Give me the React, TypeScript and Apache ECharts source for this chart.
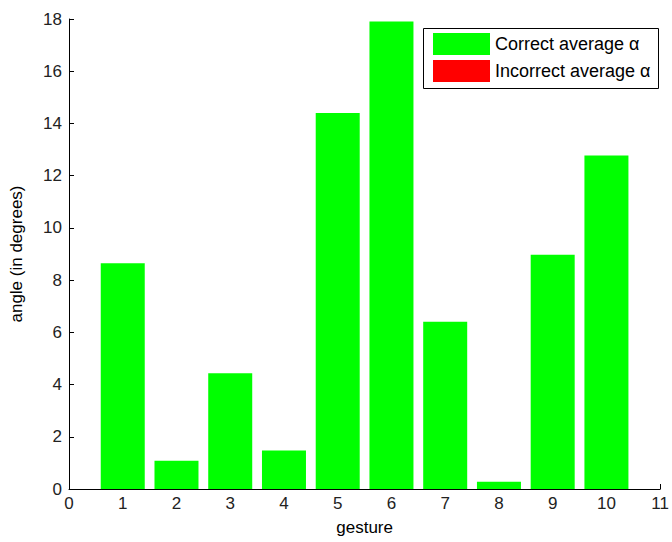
import React, { useEffect, useRef } from "react";
import * as echarts from "echarts";

const gestures = [1, 2, 3, 4, 5, 6, 7, 8, 9, 10];
const correctAvg = [8.65, 1.08, 4.43, 1.47, 14.4, 17.9, 6.41, 0.28, 8.97, 12.77];
const incorrectAvg: number[] = [];
const seriesNames = ["Correct average \u03b1", "Incorrect average \u03b1"];
const xLabel = "gesture";
const yLabel = "angle (in degrees)";

export default function App() {
  const ref = useRef<HTMLDivElement>(null);
  useEffect(() => {
    if (!ref.current) return;
    const chart = echarts.init(ref.current, null, { renderer: "svg" });
    const font = "Liberation Sans, Arial, sans-serif";
    chart.setOption({
      animation: false,
      backgroundColor: "#ffffff",
      textStyle: { fontFamily: font },
      grid: { left: 68, right: 9, top: 19, bottom: 53 },
      xAxis: {
        type: "value",
        min: 0,
        max: 11,
        interval: 1,
        name: xLabel,
        nameLocation: "middle",
        nameGap: 30,
        nameTextStyle: { fontSize: 17, color: "#000", fontFamily: font },
        axisLine: { show: true, lineStyle: { color: "#000", width: 1 } },
        axisTick: { show: true, inside: true, length: 5, lineStyle: { color: "#000" } },
        axisLabel: { fontSize: 17, color: "#222", margin: 6, fontFamily: font },
        splitLine: { show: false },
      },
      yAxis: {
        type: "value",
        min: 0,
        max: 18,
        interval: 2,
        name: yLabel,
        nameLocation: "middle",
        nameGap: 44,
        nameRotate: 90,
        nameTextStyle: { fontSize: 17, color: "#000", fontFamily: font },
        axisLine: { show: true, lineStyle: { color: "#000", width: 1 } },
        axisTick: { show: true, inside: true, length: 5, lineStyle: { color: "#000" } },
        axisLabel: { fontSize: 17, color: "#222", margin: 7, fontFamily: font },
        splitLine: { show: false },
      },
      legend: {
        show: true,
        orient: "vertical",
        left: 433,
        top: 33,
        padding: 0,
        itemWidth: 57,
        itemHeight: 22,
        itemGap: 5,
        icon: "rect",
        textStyle: { fontSize: 18, color: "#000", padding: [0, 0, 0, 0], fontFamily: font },
        data: seriesNames,
      },
      graphic: [
        {
          type: "rect",
          left: 423,
          top: 28,
          z: -1,
          shape: { width: 235, height: 60 },
          style: { fill: "#fff", stroke: "#000", lineWidth: 1 },
        },
      ],
      series: [
        {
          name: seriesNames[0],
          type: "bar",
          barWidth: 44,
          itemStyle: { color: "#00ff00" },
          data: gestures.map((g, i) => [g, correctAvg[i]]),
        },
        {
          name: seriesNames[1],
          type: "bar",
          barWidth: 44,
          barGap: "-100%",
          itemStyle: { color: "#ff0000" },
          data: incorrectAvg,
        },
      ],
    });
    return () => chart.dispose();
  }, []);
  return (
    <div
      ref={ref}
      style={{ position: "fixed", left: 0, top: 0, width: 672, height: 542 }}
    />
  );
}
